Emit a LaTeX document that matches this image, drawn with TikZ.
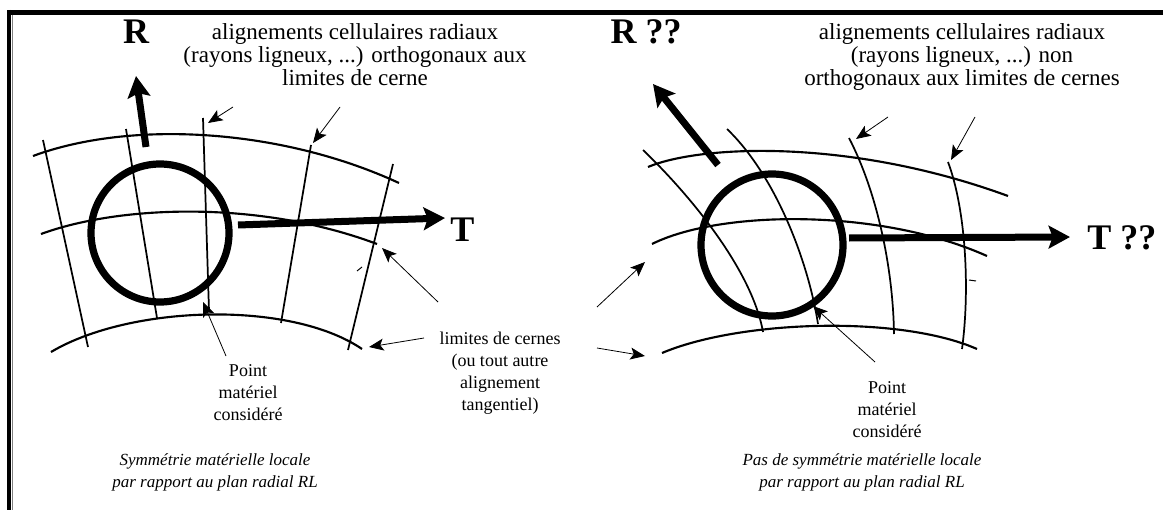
\documentclass[tikz,border=0pt]{standalone}
\usepackage{fontspec}
\setmainfont{Liberation Serif}
\usetikzlibrary{arrows.meta}
\newcommand{\fsz}[2]{\fontsize{#1}{#2}\selectfont}
\begin{document}
\begin{tikzpicture}[x=0.75pt,y=-0.75pt,
  cerne/.style={line width=1.6pt},
  rayon/.style={line width=1.3pt},
  ptr/.style={-{Stealth[length=11pt,width=9pt,inset=2.5pt]},line width=0.6pt},
  axe/.style={line width=5.25pt,-{Stealth[length=16pt,width=17pt,inset=3pt]}},
  pmat/.style={line width=5.4pt},
  lab/.style={inner sep=0pt,align=center,font=\fsz{17.25}{17.25}},
  note/.style={inner sep=0pt,align=center,font=\fsz{13.5}{16.5}},
  legende/.style={inner sep=0pt,align=center,font=\fsz{12.75}{16.5}\itshape},
  dir/.style={inner sep=0pt,font=\fsz{27}{27}\bfseries}]
\useasboundingbox (0,0) rectangle (1163,510);
% cadre
\draw[line width=3.75pt] (7,12.5) -- (1163,12.5);
\draw[line width=3pt] (8.5,10) -- (8.5,510);
\draw[gray,line width=0.75pt] (12.5,15) -- (12.5,510);

% ---- gauche : symetrie
\draw[cerne] (33,156) .. controls (130,120) and (280,128) .. (399,183);
\draw[cerne] (41,234) .. controls (120,205) and (260,200) .. (377,244);
\draw[cerne] (51,352) .. controls (130,305) and (290,300) .. (362,349);
\draw[rayon] (43,140) -- (88,347);
\draw[rayon] (126,129) -- (157,318);
\draw[rayon] (203,118) -- (209,311);
\draw[rayon] (311,145) -- (281,323);
\draw[rayon] (393,164) -- (348,350);
\draw[line width=0.75pt] (357,271) -- (362,267);
\draw[pmat] (160,233) circle (69);
\coordinate (rL0) at (146,147); \coordinate (rL1) at (136,76);
\coordinate (tL0) at (238,225); \coordinate (tL1) at (445,218);
\draw[axe] (rL0) -- (rL1);
\draw[axe] (tL0) -- (tL1);
\node[dir,anchor=base] (R) at (136,44) {R};
\node[dir,anchor=base west] (T) at (450,241) {T};
\node[lab,anchor=north] (radL) at (355,23) {alignements cellulaires radiaux\\(rayons ligneux, ...) orthogonaux aux\\limites de cerne};
\coordinate (aL1) at (233,107); \coordinate (bL1) at (208,123);
\coordinate (aL2) at (340,107); \coordinate (bL2) at (313,143);
\draw[ptr] (aL1) -- (bL1);
\draw[ptr] (aL2) -- (bL2);
\node[note,anchor=north] (ptL) at (248,364) {Point\\matériel\\considéré};
\coordinate (pL0) at (226,356); \coordinate (pL1) at (203,302);
\draw[ptr] (pL0) -- (pL1);
\node[legende,anchor=north] (capL) at (215,453) {Symmétrie matérielle locale\\par rapport au plan radial RL};

% ---- milieu : limites de cernes
\node[note,anchor=north] (lim) at (500,332) {limites de cernes\\(ou tout autre\\alignement\\tangentiel)};
\coordinate (m1) at (438,302); \coordinate (c1) at (382,248);
\coordinate (m2) at (424,338); \coordinate (c2) at (369,347);
\coordinate (m3) at (597,307); \coordinate (c3) at (645,262);
\coordinate (m4) at (597,348); \coordinate (c4) at (645,356);
\draw[ptr] (m1) -- (c1);
\draw[ptr] (m2) -- (c2);
\draw[ptr] (m3) -- (c3);
\draw[ptr] (m4) -- (c4);

% ---- droite : pas de symetrie
\draw[cerne] (648,167) .. controls (700,145) and (850,138) .. (1008,196);
\draw[cerne] (652,244) .. controls (720,210) and (880,208) .. (987,256);
\draw[cerne] (662,353) .. controls (740,320) and (900,315) .. (977,349);
\draw[rayon] (643,150) .. controls (690,195) and (752,270) .. (763,332);
\draw[rayon] (727,129) .. controls (775,175) and (808,260) .. (818,324);
\draw[rayon] (849,138) .. controls (876,190) and (893,265) .. (894,334);
\draw[rayon] (948,162) .. controls (966,210) and (970,290) .. (962,349);
\draw[line width=0.75pt] (969,280) -- (976,281);
\draw[pmat] (772,245) circle (71);
\coordinate (rR0) at (718,165); \coordinate (rR1) at (653,84);
\coordinate (tR0) at (849,238); \coordinate (tR1) at (1070,237);
\draw[axe] (rR0) -- (rR1);
\draw[axe] (tR0) -- (tR1);
\node[dir,anchor=base] (Rq) at (646,44) {R ??};
\node[dir,anchor=base west] (Tq) at (1087,249) {T ??};
\node[lab,anchor=north] (radR) at (962,23) {alignements cellulaires radiaux\\(rayons ligneux, ...) non\\orthogonaux aux limites de cernes};
\coordinate (aR1) at (888,117); \coordinate (bR1) at (856,139);
\coordinate (aR2) at (975,117); \coordinate (bR2) at (951,160);
\draw[ptr] (aR1) -- (bR1);
\draw[ptr] (aR2) -- (bR2);
\node[note,anchor=north] (ptR) at (887,381) {Point\\matériel\\considéré};
\coordinate (pR0) at (875,362); \coordinate (pR1) at (813,306);
\draw[ptr] (pR0) -- (pR1);
\node[legende,anchor=north] (capR) at (862,453) {Pas de symmétrie matérielle locale\\par rapport au plan radial RL};
\end{tikzpicture}
\end{document}
